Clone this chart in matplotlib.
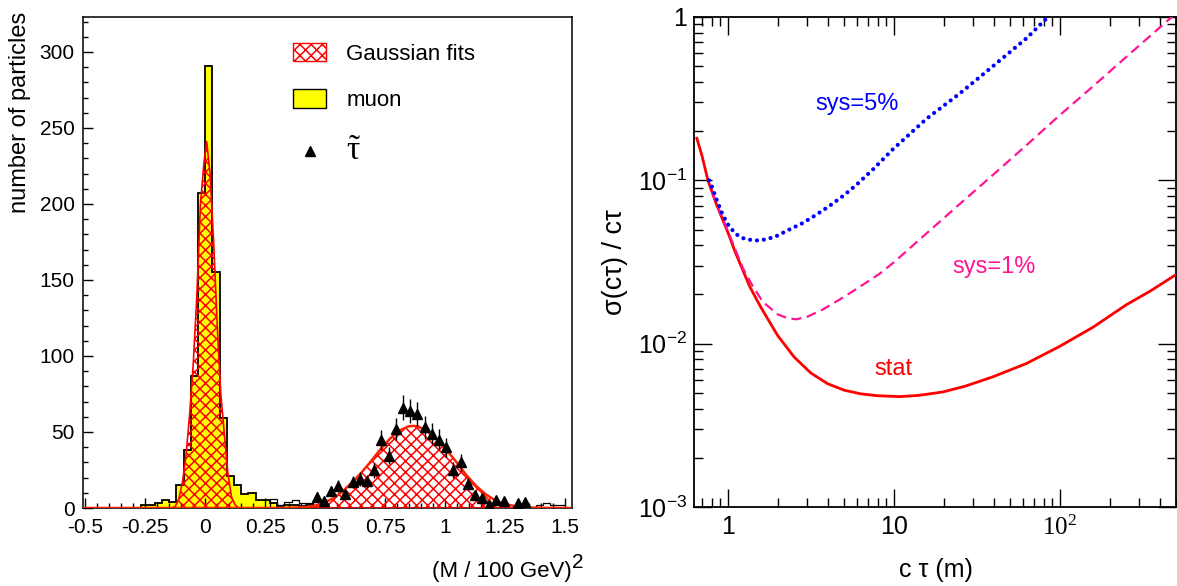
import numpy as np
import matplotlib
matplotlib.use("Agg")
import matplotlib.pyplot as plt
from matplotlib.patches import Patch
from matplotlib.lines import Line2D
from matplotlib.ticker import MultipleLocator, LogLocator, NullFormatter

plt.rcParams['font.family'] = ['Liberation Sans', 'DejaVu Sans']
plt.rcParams['mathtext.fontset'] = 'custom'
plt.rcParams['mathtext.rm'] = 'Liberation Sans'
plt.rcParams['mathtext.it'] = 'Liberation Sans:italic'
plt.rcParams['mathtext.bf'] = 'Liberation Sans:bold'
plt.rcParams['mathtext.sf'] = 'Liberation Serif'
plt.rcParams['hatch.linewidth'] = 1.1

# ---------------- left panel data: (M/100 GeV)^2 distributions ----------------
bin_width = 0.03
muon_first_edge = -0.27
muon_counts = [2, 2, 3, 5, 4, 15, 38, 87, 207, 291, 155, 59, 21, 15, 9, 10,
               5, 5, 3, 1, 2, 2, 1, 2]

open_low_first_edge = 0.27
open_low_counts = [6, 2, 4, 5, 3, 3]
open_high_first_edge = 1.38
open_high_counts = [2, 3, 2, 2]

stau_x = [0.465, 0.495, 0.525, 0.555, 0.585, 0.615, 0.645, 0.675, 0.705, 0.735,
          0.765, 0.795, 0.825, 0.855, 0.885, 0.915, 0.945, 0.975, 1.005, 1.035,
          1.065, 1.095, 1.125, 1.155, 1.185, 1.215, 1.245, 1.305, 1.335]
stau_n = [7.5, 4.5, 11, 14.5, 9.5, 17, 19, 17.5, 24.7, 44.5,
          34.5, 51.8, 66, 64, 62, 53, 49, 45, 40, 25,
          30, 16, 8.5, 6.5, 2.3, 5, 4.5, 3.5, 3.8]

muon_fit_x = [-0.51, -0.14, -0.125, -0.11, -0.095, -0.08, -0.065, -0.05, -0.035,
              -0.02, -0.005, 0.006, 0.02, 0.035, 0.05, 0.065, 0.08, 0.095, 0.11,
              0.125, 0.14, 1.53]
muon_fit_y = [0, 0, 1, 6, 17, 35, 62, 95, 140, 200, 228, 241, 220, 175, 120, 75,
              48, 22, 7, 2, 0, 0]

stau_fit_x = [-0.51, 0.30, 0.35, 0.41, 0.45, 0.49, 0.53, 0.57, 0.61, 0.65, 0.69,
              0.73, 0.77, 0.81, 0.85, 0.87, 0.89, 0.93, 0.97, 1.01, 1.05, 1.09,
              1.13, 1.17, 1.21, 1.25, 1.29, 1.33, 1.37, 1.45, 1.53]
stau_fit_y = [0, 0, 0.1, 0.5, 1.2, 3.2, 6.0, 10.5, 16.5, 23.0, 30.5, 38.5, 45.5,
              51.0, 53.8, 54.0, 53.5, 50.0, 44.5, 37.5, 29.8, 21.5, 14.5, 9.0,
              5.0, 2.6, 1.3, 0.6, 0.25, 0.05, 0.0]

left_xticks = [-0.5, -0.25, 0, 0.25, 0.5, 0.75, 1, 1.25, 1.5]
left_xticklabels = ['-0.5', '-0.25', '0', '0.25', '0.5', '0.75', '1', '1.25', '1.5']
left_yticks = [0, 50, 100, 150, 200, 250, 300]

# ---------------- right panel data: relative c*tau resolution ----------------
stat_x = [0.65, 0.70, 0.758, 0.85, 1.0, 1.1, 1.231, 1.35, 1.483, 1.585, 1.995,
          2.512, 3.162, 3.981, 5.012, 6.310, 7.943, 10.8, 14, 19.7, 27,
          39.5, 62.8, 99.5, 158, 251, 350, 498]
stat_y = [0.181, 0.14, 0.100, 0.072, 0.048, 0.037, 0.0281, 0.0225, 0.0188,
          0.0166, 0.0112, 0.00826, 0.00661, 0.00569, 0.00519, 0.00493, 0.0048,
          0.00474, 0.00482, 0.00506, 0.0055, 0.00627, 0.00756, 0.00962,
          0.0126, 0.0173, 0.021, 0.0264]

sys1_x = [0.80, 0.90, 1.0, 1.231, 1.40, 1.625, 2.0, 2.3, 2.58, 3.0, 3.73, 4.7,
          5.94, 8.2, 10.0, 15.7, 24.9, 39.5, 62.8, 99.5, 158, 251, 498]
sys1_y = [0.085, 0.063, 0.049, 0.0290, 0.0228, 0.0180, 0.0151, 0.0143, 0.0141,
          0.0146, 0.0162, 0.0186, 0.0216, 0.0268, 0.0315, 0.0473, 0.0716, 0.108,
          0.164, 0.250, 0.376, 0.570, 1.05]

sys5_x = [0.77, 0.794, 0.86, 0.933, 1.02, 1.124, 1.25, 1.448, 1.7, 1.957, 2.3,
          2.83, 3.4, 4.10, 5.0, 5.94, 7.5, 9.86, 15.7, 24.9, 39.5, 62.8, 84.7]
sys5_y = [0.100, 0.0938, 0.075, 0.0611, 0.052, 0.0467, 0.0440, 0.0427, 0.0435,
          0.0455, 0.0495, 0.0548, 0.0615, 0.0698, 0.081, 0.0938, 0.117, 0.155,
          0.238, 0.340, 0.500, 0.740, 1.0]

right_xticks = [1, 10, 100]
right_xticklabels = ['1', '10', r'$\mathsf{10^{2}}$']
right_yticks = [1e-3, 1e-2, 1e-1, 1]
right_yticklabels = [r'$10^{-3}$', r'$10^{-2}$', r'$10^{-1}$', '1']

# ---------------- figure ----------------
W, H = 1177, 586
fig = plt.figure(figsize=(W / 100, H / 100), dpi=100)
fig.patch.set_facecolor('white')

axL = fig.add_axes([83 / W, 1 - 508 / H, (572 - 83) / W, (508 - 17) / H])
axR = fig.add_axes([694 / W, 1 - 507 / H, (1176 - 694) / W, (507 - 17) / H])

# left panel
mu_edges = muon_first_edge + bin_width * np.arange(len(muon_counts) + 1)
axL.stairs(muon_counts, mu_edges, fill=True, facecolor='#ffff00', edgecolor='none', zorder=1)
axL.stairs(muon_counts, mu_edges, color='black', lw=1.3, zorder=2)

lo_edges = open_low_first_edge + bin_width * np.arange(len(open_low_counts) + 1)
hi_edges = open_high_first_edge + bin_width * np.arange(len(open_high_counts) + 1)
axL.stairs(open_low_counts, lo_edges, color='black', lw=0.9, zorder=2)
axL.stairs(open_high_counts, hi_edges, color='black', lw=0.9, zorder=2)

red = '#ff0000'
axL.fill_between(muon_fit_x, muon_fit_y, 0, facecolor='none', edgecolor=red,
                 hatch='xxx', lw=0, zorder=3)
axL.plot(muon_fit_x, muon_fit_y, color=red, lw=1.2, zorder=4)
axL.fill_between(stau_fit_x, stau_fit_y, 0, facecolor='none', edgecolor=red,
                 hatch='xxx', lw=0, zorder=3)
axL.plot(stau_fit_x, stau_fit_y, color='#ff2200', lw=1.8, zorder=4)

stau_n_arr = np.array(stau_n)
axL.errorbar(stau_x, stau_n_arr, yerr=np.sqrt(stau_n_arr), fmt='^', color='black',
             ms=6.5, elinewidth=1.0, capsize=0, zorder=5)

axL.set_xlim(-0.51, 1.53)
axL.set_ylim(0, 323)
axL.set_xticks(left_xticks)
axL.set_xticklabels(left_xticklabels)
axL.set_yticks(left_yticks)
axL.xaxis.set_minor_locator(MultipleLocator(0.05))
axL.yaxis.set_minor_locator(MultipleLocator(10))
axL.tick_params(which='both', direction='in', labelsize=15, width=1)
axL.tick_params(which='major', length=7)
axL.tick_params(which='minor', length=3.5)
axL.tick_params(axis='x', pad=7)
axL.tick_params(axis='y', pad=6)
for s in axL.spines.values():
    s.set_linewidth(1.1)

fig.text(20 / W, 1 - 12 / H, 'number of particles', rotation=90, ha='center',
         va='top', fontsize=17)
fig.text(572 / W, 1 - 572 / H, '(M / 100 GeV)', ha='right', va='center', fontsize=16)
fig.text(578 / W, 1 - 562 / H, '2', ha='center', va='center', fontsize=15)

handles = [Patch(facecolor='none', edgecolor=red, hatch='xxx', label='Gaussian fits'),
           Patch(facecolor='#ffff00', edgecolor='black', label='muon'),
           Line2D([], [], marker='^', color='black', ls='none', ms=6.5,
                  label=r'$\mathsf{\tilde{\tau}}$')]
leg = axL.legend(handles=handles, loc='upper left', bbox_to_anchor=(293 / W, 1 - 43 / H),
                 bbox_transform=fig.transFigure, frameon=False, fontsize=16,
                 borderpad=0, borderaxespad=0, handlelength=1.5, handleheight=0.9,
                 handletextpad=0.9, labelspacing=1.1)
leg.get_texts()[2].set_fontsize(24)

# right panel
axR.set_xscale('log')
axR.set_yscale('log')
axR.plot(stat_x, stat_y, color='#ff0000', lw=2.0, zorder=3)
axR.plot(sys1_x, sys1_y, color='#ff1493', lw=1.6, dashes=(4.5, 2.5), zorder=4)
axR.plot(sys5_x, sys5_y, color='#0000ff', lw=3.0, ls=(0, (0.01, 1.65)),
         dash_capstyle='round', zorder=5)

axR.text(6.0, 0.292, 'sys=5%', color='#0000ff', fontsize=17, ha='center', va='center')
axR.text(40, 0.0296, 'sys=1%', color='#ff1493', fontsize=17, ha='center', va='center')
axR.text(10, 0.00696, 'stat', color='#ff0000', fontsize=17, ha='center', va='center')

axR.set_xlim(0.625, 500)
axR.set_ylim(1e-3, 1)
axR.set_xticks(right_xticks)
axR.set_xticklabels(right_xticklabels)
axR.set_yticks(right_yticks)
axR.set_yticklabels(right_yticklabels)
axR.xaxis.set_minor_locator(LogLocator(base=10, subs=range(2, 10), numticks=20))
axR.yaxis.set_minor_locator(LogLocator(base=10, subs=range(2, 10), numticks=20))
axR.xaxis.set_minor_formatter(NullFormatter())
axR.yaxis.set_minor_formatter(NullFormatter())
axR.tick_params(which='both', direction='in', top=True, right=True, labelsize=18, width=1)
axR.tick_params(which='major', length=13)
axR.tick_params(which='minor', length=6.5)
axR.tick_params(axis='x', pad=6)
axR.tick_params(axis='y', pad=5)
for s in axR.spines.values():
    s.set_linewidth(1.3)

fig.text(615 / W, 1 - 262 / H, 'σ(cτ) / cτ', rotation=90, ha='center', va='center',
         fontsize=19.5)
fig.text(936 / W, 1 - 570 / H, 'c τ (m)', ha='center', va='center', fontsize=18)

fig.savefig('out.png', dpi=100)
